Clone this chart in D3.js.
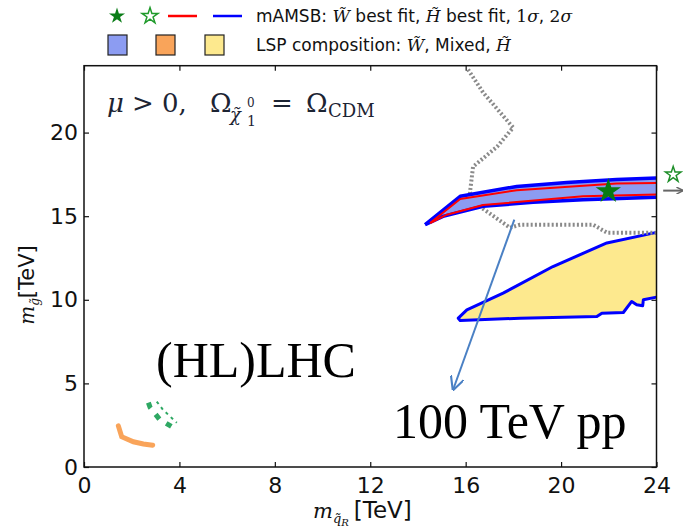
<!DOCTYPE html>
<html><head><meta charset="utf-8">
<script src="https://cdn.jsdelivr.net/npm/d3@7"></script>
<style>body{margin:0;background:#fff}svg{display:block}</style>
</head><body>
<script>
// ---- data ----
const xTicks = [0,4,8,12,16,20,24];
const yTicks = [0,5,10,15,20];
// 2sigma (blue) contour of wino region
const winoBlueUpper = [[14.30,14.49],[15.77,16.19],[18.14,16.78],[20.24,17.02],[22.33,17.19],[24.0,17.29]];
const winoBlueLower = [[14.30,14.49],[15.05,14.99],[16.73,15.59],[18.83,15.83],[20.92,15.99],[24.0,16.13]];
// 1sigma (red) contour of wino region
const winoRedUpper = [[14.51,14.59],[15.77,16.03],[18.14,16.55],[22.33,16.95],[24.0,16.99]];
const winoRedLower = [[14.51,14.59],[15.21,15.09],[16.73,15.67],[20.92,16.19],[24.0,16.29]];
const winoBest = [21.98,16.49];
const higgsinoBest = [24.70,17.49];
// higgsino (yellow) region 2sigma outline
const higgsinoOutline = [[24.0,14.03],[21.92,13.40],[19.66,11.99],[17.57,10.40],[16.05,9.40],[15.69,8.90],[15.77,8.76],
  [18.28,8.90],[21.50,9.00],[21.71,9.20],[22.61,9.24],[22.96,9.90],[23.17,9.70],[23.42,9.64],[23.45,10.00],[24.0,10.16]];
// 100 TeV reach (gray dotted)
const reach100 = [[16.10,23.77],[16.73,22.40],[17.99,20.30],[17.32,19.16],[16.31,17.96],[16.18,16.41],[16.60,15.57],
  [17.86,14.31],[18.28,14.49],[21.34,14.49],[21.93,14.01],[23.86,14.01],[24.0,14.0]];
// LHC reaches
const lhcMixed = [[1.44,2.46],[1.58,1.81],[2.07,1.51],[2.49,1.38],[2.88,1.30]];
const lhcHL = [[2.70,3.85],[2.77,3.57],[3.16,2.86],[3.72,2.38]];
const lhcHLouter = [[3.05,3.91],[3.32,3.41],[3.89,2.65]];
const arrowPts = [[18.04,14.79],[15.48,4.65]];
const sideArrow = [[24.28,16.53],[25.1,16.53]];

const W = 683, H = 531;
const svg = d3.select("body").append("svg").attr("width", W).attr("height", H)
  .style("font-family","'DejaVu Sans', sans-serif");

const x = d3.scaleLinear().domain([0,24]).range([84,656.5]);
const y = d3.scaleLinear().domain([0,24]).range([467,65.7]);
const line = d3.line().x(d=>x(d[0])).y(d=>y(d[1]));

svg.append("clipPath").attr("id","clip").append("rect")
  .attr("x",x(0)).attr("y",y(24)).attr("width",x(24)-x(0)).attr("height",y(0)-y(24));
const g = svg.append("g").attr("clip-path","url(#clip)");

const BLUEFILL = "#8c9cf2", YELLOW = "#fde98e", ORANGE = "#f9a45a", GREEN = "#2ea863";

// higgsino yellow fill
g.append("path").attr("d", line(higgsinoOutline)+"Z").attr("fill",YELLOW).attr("stroke","none");
g.append("path").attr("d", line(higgsinoOutline)).attr("fill","none").attr("stroke","#0000ff").attr("stroke-width",3).attr("stroke-linejoin","round");

// gray dotted 100 TeV reach
g.append("path").attr("d", line(reach100)).attr("fill","none").attr("stroke","#8a8a8a")
  .attr("stroke-width",4).attr("stroke-dasharray","2,2.2");

// wino band
const bandPoly = winoBlueUpper.concat(winoBlueLower.slice(1).reverse());
g.append("path").attr("d", line(bandPoly)+"Z").attr("fill",BLUEFILL).attr("stroke","none");
[winoBlueUpper, winoBlueLower].forEach(p=>g.append("path").attr("d",line(p)).attr("fill","none")
  .attr("stroke","#0000ff").attr("stroke-width",3.5).attr("stroke-linejoin","round"));
[winoRedUpper, winoRedLower].forEach(p=>g.append("path").attr("d",line(p)).attr("fill","none")
  .attr("stroke","#ff0000").attr("stroke-width",2).attr("stroke-linejoin","round"));

// LHC curves
g.append("path").attr("d", line(lhcMixed)).attr("fill","none").attr("stroke",ORANGE).attr("stroke-width",5).attr("stroke-linecap","round");
g.append("path").attr("d", line(lhcHL)).attr("fill","none").attr("stroke",GREEN).attr("stroke-width",5).attr("stroke-dasharray","6,8");
g.append("path").attr("d", line(lhcHLouter)).attr("fill","none").attr("stroke",GREEN).attr("stroke-width",2).attr("stroke-dasharray","3,4");

// best fit star
const star = d3.symbol().type(d3.symbolStar);
g.append("path").attr("d", star.size(200)()).attr("transform",`translate(${x(winoBest[0])},${y(winoBest[1])})`)
  .attr("fill","#087a12");

// blue arrow
svg.append("defs").append("marker").attr("id","ah").attr("viewBox","0 0 10 10").attr("refX",9).attr("refY",5)
  .attr("markerWidth",14).attr("markerHeight",14).attr("markerUnits","userSpaceOnUse").attr("orient","auto")
  .append("path").attr("d","M0,0L10,5L0,10").attr("fill","none").attr("stroke","#4a80c4").attr("stroke-width",1.5);
svg.append("path").attr("d", line(arrowPts)).attr("stroke","#4a80c4").attr("stroke-width",2).attr("fill","none")
  .attr("marker-end","url(#ah)");

// outside open star and gray arrow
svg.append("path").attr("d", star.size(75)()).attr("transform",`translate(${x(higgsinoBest[0])},${y(higgsinoBest[1])})`)
  .attr("fill","none").attr("stroke","#1f8f2a").attr("stroke-width",1.5);
svg.append("defs").append("marker").attr("id","ah2").attr("viewBox","0 0 10 10").attr("refX",9).attr("refY",5)
  .attr("markerWidth",7).attr("markerHeight",7).attr("markerUnits","userSpaceOnUse").attr("orient","auto")
  .append("path").attr("d","M0,0L10,5L0,10").attr("fill","none").attr("stroke","#666").attr("stroke-width",2);
svg.append("path").attr("d", line(sideArrow)).attr("stroke","#666").attr("stroke-width",2).attr("fill","none")
  .attr("marker-end","url(#ah2)");

// axes
const fs = 22;
const axB = svg.append("g").attr("transform",`translate(0,${y(0)})`).call(d3.axisBottom(x).tickValues(xTicks).tickSize(-5).tickPadding(10));
const axL = svg.append("g").attr("transform",`translate(${x(0)},0)`).call(d3.axisLeft(y).tickValues(yTicks).tickSize(-5).tickPadding(6));
const axT = svg.append("g").attr("transform",`translate(0,${y(24)})`).call(d3.axisTop(x).tickValues(xTicks).tickSize(-5).tickFormat(""));
const axR = svg.append("g").attr("transform",`translate(${x(24)},0)`).call(d3.axisRight(y).tickValues(yTicks).tickSize(-5).tickFormat(""));
[axB,axL,axT,axR].forEach(a=>{
  a.select(".domain").remove();
  a.selectAll("line").attr("stroke","#111").attr("stroke-width",1.2);
  a.selectAll("text").attr("font-size",fs).attr("font-family","'DejaVu Sans', sans-serif").attr("fill","#111");
});
svg.append("rect").attr("x",x(0)).attr("y",y(24)).attr("width",x(24)-x(0)).attr("height",y(0)-y(24))
  .attr("fill","none").attr("stroke","#111").attr("stroke-width",1.5);

// axis labels
const xl = svg.append("text").attr("x",313).attr("y",518).attr("font-size",23).attr("fill","#111");
xl.append("tspan").attr("font-family","'DejaVu Serif', serif").attr("font-style","italic").attr("font-size",21).text("m");
xl.append("tspan").attr("font-family","'DejaVu Serif', serif").attr("font-style","italic").attr("font-size",13).attr("dy",5).text("q\u0303");
xl.append("tspan").attr("font-family","'DejaVu Serif', serif").attr("font-style","italic").attr("font-size",10).attr("dy",3).text("R");
xl.append("tspan").attr("dy",-8).attr("dx",5).text("[TeV]");

const yl = svg.append("text").attr("transform",`translate(34,${285}) rotate(-90)`).attr("text-anchor","middle").attr("font-size",21).attr("fill","#111");
yl.append("tspan").attr("font-family","'DejaVu Serif', serif").attr("font-style","italic").attr("font-size",20).text("m");
yl.append("tspan").attr("font-family","'DejaVu Serif', serif").attr("font-style","italic").attr("font-size",12).attr("dy",5).text("g\u0303");
yl.append("tspan").attr("dy",-5).text("[TeV]");

// annotation texts
const serif = "'Liberation Serif', 'Times New Roman', serif";
svg.append("text").attr("x",156).attr("y",377).attr("font-family",serif).attr("font-size",50).attr("fill","#000").text("(HL)LHC");
svg.append("text").attr("x",393).attr("y",438).attr("font-family",serif).attr("font-size",50).attr("fill","#000").text("100 TeV pp");

// condition label, pieces placed like the typeset formula
const tcol = "#1c2433";
const tpieces = [
  {t:"μ", x:107, y:112, s:26, it:true},
  {t:">", x:132, y:112, s:26},
  {t:"0,", x:162, y:112, s:26},
  {t:"Ω", x:210, y:112, s:26},
  {t:"χ\u0303", x:230, y:121, s:18, it:true},
  {t:"0", x:247, y:107, s:12},
  {t:"1", x:247, y:126, s:14},
  {t:"=", x:271, y:112, s:26},
  {t:"Ω", x:306, y:112, s:26},
  {t:"CDM", x:328, y:117, s:18}
];
const tg = svg.append("g").attr("font-family","'DejaVu Serif', serif").attr("fill",tcol);
tpieces.forEach(p=>tg.append("text").attr("x",p.x).attr("y",p.y).attr("font-size",p.s)
  .attr("font-style",p.it?"italic":"normal").text(p.t));

// legend
const ly1 = 16, ly2 = 45;
svg.append("path").attr("d", star.size(80)()).attr("transform",`translate(117,${ly1})`).attr("fill","#0b7d18");
svg.append("path").attr("d", star.size(80)()).attr("transform",`translate(150,${ly1})`).attr("fill","none").attr("stroke","#1f9a2a").attr("stroke-width",1.5);
svg.append("line").attr("x1",168).attr("x2",197).attr("y1",ly1).attr("y2",ly1).attr("stroke","#ff0000").attr("stroke-width",2.5);
svg.append("line").attr("x1",213).attr("x2",242).attr("y1",ly1).attr("y2",ly1).attr("stroke","#0000ff").attr("stroke-width",2.5);
const lt1 = svg.append("text").attr("x",256).attr("y",ly1+6).attr("font-size",17).attr("fill","#111");
lt1.append("tspan").text("mAMSB: ");
lt1.append("tspan").attr("font-family","'DejaVu Serif', serif").attr("font-style","italic").text("W\u0303");
lt1.append("tspan").text(" best fit, ");
lt1.append("tspan").attr("font-family","'DejaVu Serif', serif").attr("font-style","italic").text("H\u0303");
lt1.append("tspan").text(" best fit, ");
lt1.append("tspan").attr("font-family","'DejaVu Serif', serif").text("1");
lt1.append("tspan").attr("font-family","'DejaVu Serif', serif").attr("font-style","italic").text("σ");
lt1.append("tspan").text(", ");
lt1.append("tspan").attr("font-family","'DejaVu Serif', serif").text("2");
lt1.append("tspan").attr("font-family","'DejaVu Serif', serif").attr("font-style","italic").text("σ");

const swatches = [BLUEFILL, ORANGE, YELLOW];
const swX = [108, 156, 205];
swatches.forEach((c,i)=>svg.append("rect").attr("x",swX[i]).attr("y",ly2-10).attr("width",19).attr("height",20)
  .attr("fill",c).attr("stroke","#222").attr("stroke-width",1.2));
const lt2 = svg.append("text").attr("x",256).attr("y",ly2+6).attr("font-size",17).attr("fill","#111");
lt2.append("tspan").text("LSP composition: ");
lt2.append("tspan").attr("font-family","'DejaVu Serif', serif").attr("font-style","italic").text("W\u0303");
lt2.append("tspan").text(", Mixed, ");
lt2.append("tspan").attr("font-family","'DejaVu Serif', serif").attr("font-style","italic").text("H\u0303");
</script>
</body></html>
